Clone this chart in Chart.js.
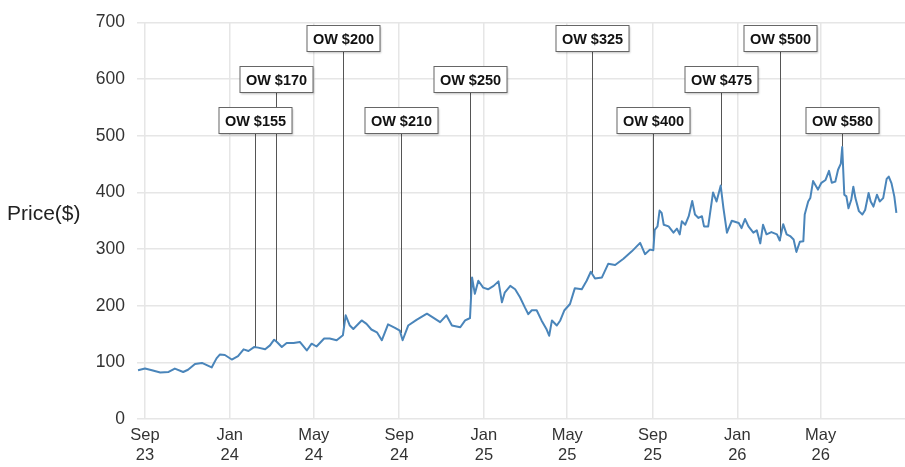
<!DOCTYPE html>
<html>
<head>
<meta charset="utf-8">
<script src="https://cdn.jsdelivr.net/npm/chart.js@4"></script>
<style>
  html, body { margin: 0; padding: 0; background: #fff; }
  #wrap { width: 905px; height: 467px; }
</style>
</head>
<body>
<div id="wrap"><canvas id="chart" width="905" height="467"></canvas></div>
<script>
// day 0 = 1 Sep 2023
const startDate = Date.UTC(2023, 8, 1);

const priceDays = [-10, 0, 10, 22, 34, 43, 55, 62, 72, 82, 96, 103, 108, 115, 125, 134, 142, 149, 157, 163,
  173, 180, 186, 190, 197, 204, 214, 223, 233, 240, 247, 258, 266, 276, 285, 289, 295, 300, 312, 319,
  326, 334, 341, 350, 360, 367, 371, 379, 391, 406, 415, 425, 434, 442, 454, 461, 466, 468, 471, 473,
  475, 480, 487, 494, 502, 509, 514, 518, 526, 533, 540, 547, 552, 557, 564, 571, 578, 582, 586, 593,
  598, 604, 612, 619, 629, 636, 642, 648, 658, 667, 677, 689, 701, 713, 720, 727, 732, 734, 738, 741,
  744, 747, 754, 761, 766, 770, 773, 778, 783, 788, 792, 797, 802, 805, 811, 818, 823, 829, 833, 838,
  845, 855, 859, 864, 869, 876, 881, 886, 890, 895, 902, 910, 914, 919, 924, 929, 934, 938, 943, 948,
  950, 955, 958, 962, 969, 974, 980, 985, 989, 994, 998, 1002, 1004, 1007, 1010, 1013, 1017, 1020, 1023, 1028,
  1033, 1037, 1042, 1045, 1049, 1054, 1058, 1063, 1068, 1071, 1075, 1079, 1082];

const priceValues = [86, 89, 86, 82, 83, 89, 83, 87, 97, 99, 91, 107, 114, 113, 105, 111, 123, 120, 127, 126,
  123, 130, 140, 136, 127, 134, 134, 136, 121, 133, 128, 142, 142, 139, 148, 183, 165, 159, 174, 168,
  158, 153, 139, 167, 161, 156, 139, 165, 175, 186, 179, 171, 183, 165, 162, 174, 177, 178, 250, 235,
  221, 244, 232, 229, 235, 243, 206, 223, 235, 229, 215, 197, 185, 192, 192, 174, 159, 147, 174, 165,
  174, 192, 203, 231, 229, 244, 260, 248, 250, 274, 272, 283, 296, 311, 291, 299, 298, 334, 340, 368,
  364, 343, 340, 329, 336, 326, 349, 343, 358, 385, 361, 355, 358, 340, 340, 400, 384, 412, 372, 329,
  350, 346, 337, 353, 340, 329, 333, 310, 343, 326, 330, 326, 315, 344, 326, 323, 317, 295, 313, 314,
  361, 384, 390, 420, 405, 417, 422, 438, 417, 419, 440, 451, 480, 396, 393, 372, 387, 410, 390, 367,
  361, 369, 399, 384, 375, 396, 384, 390, 424, 428, 416, 393, 364];

const annoDays = [158, 189, 285, 368, 468, 643, 732, 829, 914, 1004];
const annoLabels = ['OW $155', 'OW $170', 'OW $200', 'OW $210', 'OW $250',
                    'OW $325', 'OW $400', 'OW $475', 'OW $500', 'OW $580'];

const monthNames = ['Jan', 'Feb', 'Mar', 'Apr', 'May', 'Jun', 'Jul', 'Aug', 'Sep', 'Oct', 'Nov', 'Dec'];
const tickMonths = [[2023, 8], [2024, 0], [2024, 4], [2024, 8], [2025, 0], [2025, 4], [2025, 8], [2026, 0], [2026, 4]];

const FONT = '"Liberation Sans", Arial, Helvetica, sans-serif';
const DAY = 86400000;

function dayOf(y, m) { return Math.round((Date.UTC(y, m, 1) - startDate) / DAY); }
function labelOf(day) {
  const d = new Date(startDate + day * DAY);
  return [monthNames[d.getUTCMonth()], String(d.getUTCFullYear()).slice(2)];
}

function priceAt(day) {
  for (let i = 1; i < priceDays.length; i++) {
    if (day <= priceDays[i]) {
      const t = (day - priceDays[i - 1]) / (priceDays[i] - priceDays[i - 1]);
      return priceValues[i - 1] + t * (priceValues[i] - priceValues[i - 1]);
    }
  }
  return priceValues[priceValues.length - 1];
}

// callout boxes with leader lines down to the price line
const calloutPlugin = {
  id: 'callouts',
  beforeDatasetsDraw(chart, args, opts) {
    const ctx = chart.ctx, xs = chart.scales.x, ys = chart.scales.y;
    ctx.save();
    ctx.strokeStyle = '#555';
    ctx.lineWidth = 1;
    annoDays.forEach((d, i) => {
      const x = Math.round(xs.getPixelForValue(d)) + 0.5;
      const top = ys.getPixelForValue(opts.levels[opts.rows[i]]) + opts.boxH / 2;
      ctx.beginPath();
      ctx.moveTo(x, top);
      ctx.lineTo(x, ys.getPixelForValue(priceAt(d)));
      ctx.stroke();
    });
    ctx.restore();
  },
  afterDatasetsDraw(chart, args, opts) {
    const ctx = chart.ctx, xs = chart.scales.x, ys = chart.scales.y;
    ctx.save();
    ctx.font = 'bold 14.5px ' + FONT;
    ctx.textAlign = 'center';
    ctx.textBaseline = 'middle';
    annoDays.forEach((d, i) => {
      const x = Math.round(xs.getPixelForValue(d)) + 0.5;
      const cy = Math.round(ys.getPixelForValue(opts.levels[opts.rows[i]])) + 0.5;
      const w = Math.round(ctx.measureText(annoLabels[i]).width + 12);
      const h = opts.boxH;
      ctx.shadowColor = 'rgba(0,0,0,0.25)';
      ctx.shadowBlur = 2;
      ctx.shadowOffsetX = 1;
      ctx.shadowOffsetY = 1;
      ctx.fillStyle = '#fff';
      ctx.fillRect(x - w / 2, cy - h / 2, w, h);
      ctx.shadowColor = 'transparent';
      ctx.strokeStyle = '#666';
      ctx.lineWidth = 1;
      ctx.strokeRect(x - w / 2, cy - h / 2, w, h);
      ctx.fillStyle = '#111';
      ctx.fillText(annoLabels[i], x, cy + 1);
    });
    ctx.restore();
  }
};

// horizontal y-axis title on the left
const yTitlePlugin = {
  id: 'yTitle',
  afterDraw(chart) {
    const ctx = chart.ctx;
    ctx.save();
    ctx.font = '21px ' + FONT;
    ctx.fillStyle = '#222';
    ctx.textAlign = 'left';
    ctx.textBaseline = 'middle';
    ctx.fillText('Price($)', 7, 214);
    ctx.restore();
  }
};

new Chart(document.getElementById('chart'), {
  type: 'line',
  data: {
    datasets: [{
      data: priceDays.map((d, i) => ({ x: d, y: priceValues[i] })),
      borderColor: '#4a85ba',
      borderWidth: 2,
      pointRadius: 0,
      tension: 0,
      fill: false,
      borderJoinStyle: 'round'
    }]
  },
  options: {
    responsive: false,
    animation: false,
    devicePixelRatio: 1,
    layout: { padding: { top: 20, right: 0, bottom: 0, left: 0 } },
    plugins: {
      legend: { display: false },
      tooltip: { enabled: false },
      callouts: { rows: [2, 1, 0, 2, 1, 0, 2, 1, 0, 2], levels: [672, 600, 528], boxH: 26 }
    },
    scales: {
      x: {
        type: 'linear',
        min: -11.5,
        max: 1094.4,
        afterBuildTicks(scale) {
          scale.ticks = tickMonths.map(([y, m]) => ({ value: dayOf(y, m) }));
        },
        afterFit(scale) { scale.height = 48; },
        grid: { color: '#e6e6e6', lineWidth: 1.5, drawTicks: false },
        border: { display: false },
        ticks: {
          padding: 7,
          maxRotation: 0,
          autoSkip: false,
          color: '#333',
          font: { family: FONT, size: 16.5 },
          callback: (v) => labelOf(v)
        }
      },
      y: {
        min: 0,
        max: 700,
        afterFit(scale) { scale.width = 137; },
        grid: { color: '#e6e6e6', lineWidth: 1.5, drawTicks: false },
        border: { display: false },
        ticks: {
          stepSize: 100,
          padding: 12,
          color: '#333',
          font: { family: FONT, size: 17.5 }
        }
      }
    }
  },
  plugins: [calloutPlugin, yTitlePlugin]
});
</script>
</body>
</html>
